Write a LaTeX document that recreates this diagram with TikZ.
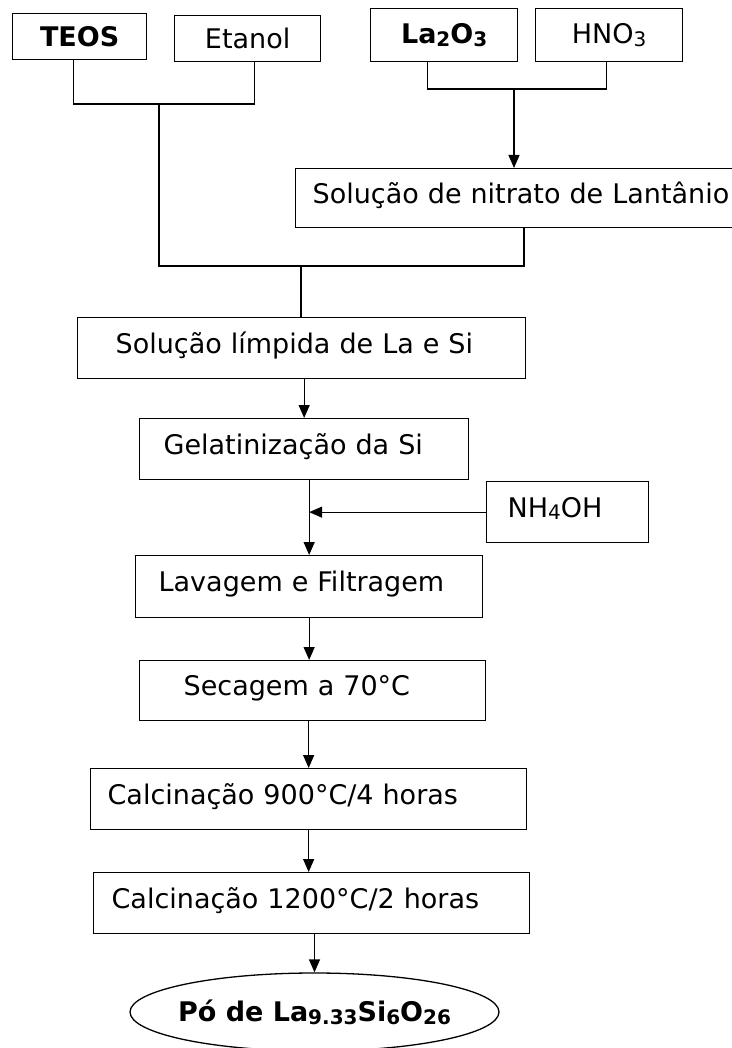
\documentclass[tikz,border=0pt]{standalone}
\usepackage{fontspec}
\setmainfont{DejaVu Sans}
\usetikzlibrary{arrows.meta,shapes.geometric}
\newcommand{\baixo}[1]{\raisebox{-0.1em}{\fontsize{20}{21}\selectfont #1}}

\begin{document}
\begin{tikzpicture}[x=1pt, y=-1pt, line width=1.3pt,
                    font=\fontsize{27}{32}\selectfont,
                    topo/.style={draw, anchor=north west, inner sep=0pt},
                    caixa/.style={draw, anchor=north west, inner ysep=0pt, align=left, text height=26pt, text depth=16pt},
                    seta/.style={-{Triangle[length=13pt,width=11pt]}}]
                    \useasboundingbox (0,0) rectangle (731,1048);
                    \node [topo, minimum width=134, minimum height=46] (teos) at (12,13) {\textbf{TEOS}};
                    \node [topo, minimum width=146, minimum height=46] (etanol) at (174,15) {Etanol};
                    \node [topo, minimum width=147, minimum height=53] (la) at (370,8) {\textbf{La\baixo{2}O\baixo{3}}};
                    \node [topo, minimum width=147, minimum height=53] (hno) at (535,8) {HNO\baixo{3}};
                    \node [caixa, minimum height=59, inner xsep=17, text width=461] (nitrato) at (295,168) {Solução de nitrato de Lantânio};
                    \node [caixa, minimum height=61, inner xsep=38, text width=372] (limpida) at (77,317) {Solução límpida de La e Si};
                    \node [caixa, minimum height=61, inner xsep=24, text width=281] (gel) at (139,418) {Gelatinização da Si};
                    \node [caixa, minimum height=61, inner xsep=21, text width=120] (nh) at (486,481) {NH\baixo{4}OH};
                    \node [caixa, minimum height=62, inner xsep=23, text width=301] (lavagem) at (135,555) {Lavagem e Filtragem};
                    \node [caixa, minimum height=60, inner xsep=44, text width=258] (secagem) at (139,660) {Secagem a 70°C};
                    \node [caixa, minimum height=61, inner xsep=17, text width=402] (calc1) at (90,768) {Calcinação 900°C/4 horas};
                    \node [caixa, minimum height=61, inner xsep=18, text width=400] (calc2) at (93,872) {Calcinação 1200°C/2 horas};
                    \node [draw, ellipse, minimum width=369, minimum height=78, inner sep=0pt] (po) at (314.5,1012) {\makebox[0pt]{\textbf{Pó de La\baixo{9.33}Si\baixo{6}O\baixo{26}}}};
                    \coordinate (j1) at (159,104);
                    \coordinate (j2) at (514,89);
                    \coordinate (j3) at (301,266);
                    \coordinate (j4) at (524,266);
                    \draw ([xshift=-6]teos.south) |- (j1) -| ([xshift=7]etanol.south);
                    \draw ([xshift=-16.5]la.south) |- (j2) -| ([xshift=-2.5]hno.south);
                    \draw [seta] (j2) -- (nitrato.north -| j2);
                    \draw (j1) |- (j4) -- (nitrato.south -| j4);
                    \draw (j3) -- (limpida.north -| j3);
                    \draw [seta] (gel.north |- limpida.south) -- (gel.north);
                    \draw [seta] (lavagem.north |- gel.south) -- (lavagem.north);
                    \draw [seta] (nh.west) -- (nh.west -| lavagem.north);
                    \draw [seta] (lavagem.south) -- (lavagem.south |- secagem.north);
                    \draw [seta] (calc1.north |- secagem.south) -- (calc1.north);
                    \draw [seta] (calc1.south) -- (calc1.south |- calc2.north);
                    \draw [seta] (po.north |- calc2.south) -- (po.north);
                \end{tikzpicture}
\end{document}
